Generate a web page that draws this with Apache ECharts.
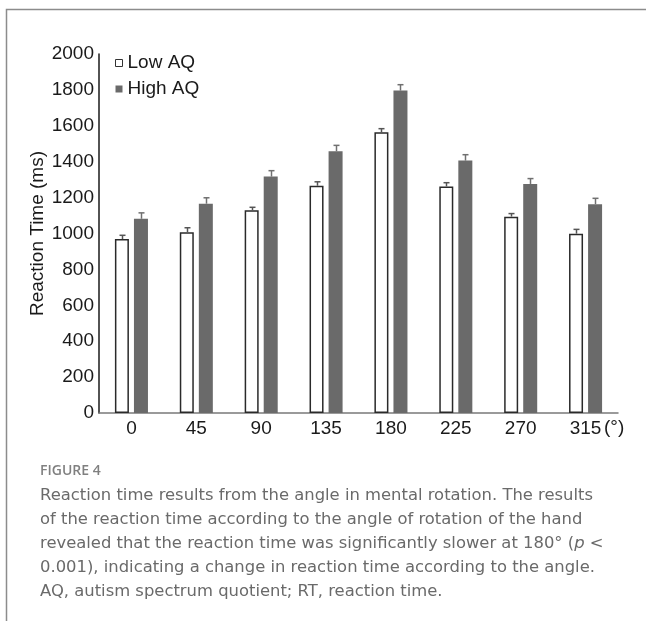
<!DOCTYPE html>
<html>
<head>
<meta charset="utf-8">
<script src="https://cdn.jsdelivr.net/npm/echarts@6/dist/echarts.min.js"></script>
<style>
html,body{margin:0;padding:0;background:#fff;}
#chart{width:646px;height:621px;}
</style>
</head>
<body>
<div id="chart"></div>
<script>
var categories = ['0', '45', '90', '135', '180', '225', '270', '315'];
var lowAQ = [969, 1007, 1129, 1266, 1564, 1262, 1094, 999];
var lowAQErr = [21, 25, 17, 22, 20, 21, 17, 24];
var highAQ = [1082, 1166, 1317, 1458, 1796, 1406, 1276, 1163];
var highAQErr = [33, 33, 33, 33, 33, 33, 30, 33];
var yTicks = [0, 200, 400, 600, 800, 1000, 1200, 1400, 1600, 1800, 2000];
var captionLines = [
  'Reaction time results from the angle in mental rotation. The results',
  'of the reaction time according to the angle of rotation of the hand',
  'revealed that the reaction time was significantly slower at 180\u00b0 (',
  '0.001), indicating a change in reaction time according to the angle.',
  'AQ, autism spectrum quotient; RT, reaction time.'
];

var chart = echarts.init(document.getElementById('chart'), null, {renderer: 'canvas'});

function errRender(offset, color) {
  return function (params, api) {
    var idx = api.value(0);
    var top = api.coord([idx, api.value(1) + api.value(2)]);
    var base = api.coord([idx, api.value(1)]);
    var x = Math.round(base[0] + offset) + 0.5;
    return {
      type: 'group',
      children: [
        {type: 'line', shape: {x1: x, y1: base[1], x2: x, y2: top[1]}, style: {stroke: color, lineWidth: 1.5}},
        {type: 'line', shape: {x1: x - 3, y1: top[1], x2: x + 3, y2: top[1]}, style: {stroke: color, lineWidth: 1.5}}
      ]
    };
  };
}

function errData(vals, errs) {
  return vals.map(function (v, i) { return [i, v, errs[i]]; });
}

var font = '"Liberation Sans", Arial, sans-serif';
var capFont = '"Open Sans", "Noto Sans", sans-serif';
var bodyFont = '"DejaVu Sans", "Open Sans", sans-serif';

var graphics = [
  {type: 'polyline', shape: {points: [[6.5, 621], [6.5, 9.5], [646, 9.5]]}, style: {stroke: '#8c8c8c', lineWidth: 1.5, fill: null}},
  {type: 'text', left: 40, top: 464, style: {text: 'FIGURE 4', font: '600 14px ' + capFont, fill: '#808080'}}
];
captionLines.forEach(function (t, i) {
  if (i === 2) {
    graphics.push({type: 'text', left: 40, top: 488 + i * 24,
      style: {text: '{a|' + t + '}{b|p}{a| <}',
        rich: {a: {font: '16.4px ' + bodyFont, fill: '#6a6a6a'}, b: {font: 'italic 16.4px ' + bodyFont, fill: '#6a6a6a'}}}});
  } else {
    graphics.push({type: 'text', left: 40, top: 488 + i * 24, style: {text: t, font: '16.4px ' + bodyFont, fill: '#6a6a6a'}});
  }
});

chart.setOption({
  animation: false,
  backgroundColor: '#ffffff',
  grid: {left: 99, right: 28, top: 54, bottom: 208, containLabel: false},
  legend: {
    orient: 'vertical', left: 110, top: 48.5, itemWidth: 7, itemHeight: 7, itemGap: 7,
    icon: 'rect', selectedMode: false,
    textStyle: {fontFamily: font, fontSize: 19, lineHeight: 19, color: '#1a1a1a'},
    data: [
      {name: 'Low AQ', itemStyle: {color: '#ffffff', borderColor: '#333333', borderWidth: 1}},
      {name: 'High AQ', itemStyle: {color: '#6a6a6a', borderWidth: 0}}
    ]
  },
  xAxis: {
    type: 'category', data: categories,
    name: '(\u00b0)', nameLocation: 'end', nameGap: -14, nameMoveOverlap: false,
    nameTextStyle: {fontFamily: font, fontSize: 19, color: '#1a1a1a', verticalAlign: 'top', padding: [5, 0, 0, 0]},
    axisLine: {lineStyle: {color: '#7a7a7a', width: 1.5}},
    axisTick: {show: false},
    axisLabel: {fontFamily: font, fontSize: 19, color: '#1a1a1a', margin: 6}
  },
  yAxis: {
    type: 'value', min: 0, max: 2000, interval: 200,
    name: 'Reaction Time (ms)', nameLocation: 'middle', nameGap: 52, nameMoveOverlap: false,
    nameTextStyle: {fontFamily: font, fontSize: 19, color: '#1a1a1a'},
    axisLine: {show: true, lineStyle: {color: '#1a1a1a', width: 1.5}},
    axisTick: {show: false},
    splitLine: {show: false},
    axisLabel: {fontFamily: font, fontSize: 19, color: '#1a1a1a', margin: 5,
      formatter: function (v) { return yTicks.indexOf(v) >= 0 ? String(v) : ''; }}
  },
  series: [
    {name: 'Low AQ', type: 'bar', data: lowAQ, barWidth: 14, barGap: '36%',
      itemStyle: {color: '#ffffff', borderColor: '#2a2a2a', borderWidth: 1.5}},
    {name: 'High AQ', type: 'bar', data: highAQ, barWidth: 14,
      itemStyle: {color: '#6a6a6a'}},
    {name: 'Low AQ err', type: 'custom', renderItem: errRender(-9.5, '#555555'), data: errData(lowAQ, lowAQErr), z: 5},
    {name: 'High AQ err', type: 'custom', renderItem: errRender(9.5, '#707070'), data: errData(highAQ, highAQErr), z: 5}
  ],
  graphic: graphics
});
</script>
</body>
</html>
